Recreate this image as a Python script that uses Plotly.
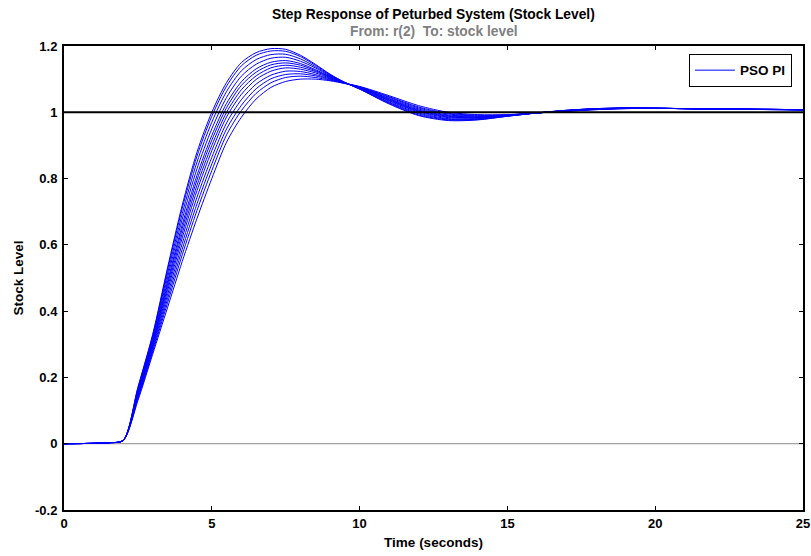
import plotly.graph_objects as go

# time samples (s)
t = [0, 1.5, 2, 2.5, 3, 3.5, 4, 4.5, 5, 5.5, 6, 6.5, 7, 7.5, 8, 8.5, 9, 9.5, 10,
     11, 12, 13, 14, 15, 16, 17, 18, 19, 20, 22, 25]

# step responses of the perturbed systems (stock level)
resp_01 = [0, 0.003, 0.01, 0.170, 0.330, 0.530, 0.720, 0.880, 1.000, 1.090, 1.150, 1.180, 1.192, 1.190, 1.172, 1.145, 1.115, 1.090, 1.070,
           1.025, 0.990, 0.975, 0.977, 0.988, 0.998, 1.006, 1.011, 1.013, 1.012, 1.010, 1.007]
resp_02 = [0, 0.003, 0.01, 0.168, 0.326, 0.523, 0.710, 0.868, 0.988, 1.079, 1.140, 1.172, 1.185, 1.184, 1.168, 1.142, 1.114, 1.090, 1.070,
           1.027, 0.992, 0.977, 0.978, 0.988, 0.998, 1.006, 1.011, 1.013, 1.012, 1.010, 1.007]
resp_03 = [0, 0.003, 0.01, 0.164, 0.321, 0.512, 0.694, 0.850, 0.970, 1.063, 1.125, 1.159, 1.174, 1.175, 1.161, 1.138, 1.112, 1.090, 1.071,
           1.029, 0.995, 0.979, 0.979, 0.989, 0.998, 1.006, 1.011, 1.013, 1.012, 1.010, 1.007]
resp_04 = [0, 0.003, 0.01, 0.160, 0.315, 0.500, 0.678, 0.830, 0.950, 1.045, 1.109, 1.145, 1.163, 1.166, 1.154, 1.134, 1.110, 1.089, 1.072,
           1.031, 0.998, 0.981, 0.981, 0.989, 0.998, 1.005, 1.010, 1.013, 1.012, 1.010, 1.008]
resp_05 = [0, 0.003, 0.01, 0.156, 0.309, 0.488, 0.661, 0.810, 0.930, 1.027, 1.092, 1.131, 1.151, 1.156, 1.147, 1.129, 1.108, 1.089, 1.073,
           1.034, 1.001, 0.984, 0.983, 0.990, 0.998, 1.005, 1.010, 1.012, 1.012, 1.010, 1.008]
resp_06 = [0, 0.003, 0.01, 0.153, 0.305, 0.480, 0.649, 0.796, 0.916, 1.014, 1.081, 1.121, 1.143, 1.149, 1.142, 1.126, 1.107, 1.089, 1.073,
           1.036, 1.003, 0.986, 0.984, 0.990, 0.998, 1.005, 1.010, 1.012, 1.012, 1.010, 1.008]
resp_07 = [0, 0.003, 0.01, 0.150, 0.300, 0.470, 0.635, 0.780, 0.900, 1.000, 1.068, 1.110, 1.134, 1.142, 1.136, 1.123, 1.105, 1.089, 1.074,
           1.038, 1.005, 0.988, 0.985, 0.991, 0.998, 1.005, 1.010, 1.012, 1.012, 1.010, 1.008]
resp_08 = [0, 0.003, 0.01, 0.147, 0.295, 0.460, 0.621, 0.764, 0.884, 0.986, 1.054, 1.099, 1.124, 1.134, 1.130, 1.119, 1.103, 1.088, 1.075,
           1.040, 1.007, 0.990, 0.986, 0.991, 0.998, 1.004, 1.009, 1.012, 1.012, 1.010, 1.008]
resp_09 = [0, 0.003, 0.01, 0.143, 0.289, 0.448, 0.604, 0.744, 0.864, 0.968, 1.038, 1.085, 1.112, 1.124, 1.123, 1.114, 1.101, 1.088, 1.075,
           1.042, 1.010, 0.992, 0.988, 0.991, 0.998, 1.004, 1.009, 1.012, 1.012, 1.010, 1.008]
resp_10 = [0, 0.003, 0.01, 0.139, 0.283, 0.436, 0.587, 0.724, 0.844, 0.950, 1.021, 1.071, 1.101, 1.114, 1.116, 1.110, 1.099, 1.088, 1.076,
           1.045, 1.013, 0.995, 0.989, 0.992, 0.998, 1.004, 1.009, 1.012, 1.012, 1.010, 1.008]
resp_11 = [0, 0.003, 0.01, 0.135, 0.277, 0.424, 0.570, 0.704, 0.824, 0.932, 1.005, 1.057, 1.089, 1.105, 1.109, 1.105, 1.097, 1.087, 1.077,
           1.047, 1.016, 0.997, 0.991, 0.992, 0.998, 1.003, 1.008, 1.011, 1.012, 1.010, 1.008]
resp_12 = [0, 0.003, 0.01, 0.130, 0.270, 0.410, 0.550, 0.680, 0.800, 0.910, 0.985, 1.040, 1.075, 1.093, 1.100, 1.100, 1.095, 1.087, 1.078,
           1.050, 1.020, 1.000, 0.993, 0.993, 0.998, 1.003, 1.008, 1.011, 1.012, 1.010, 1.008]

responses = [resp_01, resp_02, resp_03, resp_04, resp_05, resp_06,
             resp_07, resp_08, resp_09, resp_10, resp_11, resp_12]

x_range = [0, 25]
y_range = [-0.2, 1.2]
x_ticks = [0, 5, 10, 15, 20, 25]
y_ticks = [-0.2, 0, 0.2, 0.4, 0.6, 0.8, 1, 1.2]
y_tick_text = ["-0.2", "0", "0.2", "0.4", "0.6", "0.8", "1", "1.2"]
setpoint = 1

FONT = "Liberation Sans, Arial, sans-serif"

fig = go.Figure()

# zero line (gray)
fig.add_trace(go.Scatter(x=x_range, y=[0, 0], mode="lines",
                         line=dict(color="#8c8c8c", width=1),
                         showlegend=False, hoverinfo="skip"))

for i, r in enumerate(responses):
    fig.add_trace(go.Scatter(
        x=t, y=r, mode="lines", name="PSO PI",
        line=dict(color="#0000ff", width=1, shape="spline", smoothing=0.8),
        showlegend=(i == 0)))

# set-point line (black)
fig.add_trace(go.Scatter(x=x_range, y=[setpoint, setpoint], mode="lines",
                         line=dict(color="black", width=2),
                         showlegend=False, hoverinfo="skip"))

axis_common = dict(showgrid=False, zeroline=False, showline=True, automargin=False,
                   linecolor="black", linewidth=2, mirror="ticks",
                   ticks="inside", ticklen=4, tickcolor="black", tickwidth=1,
                   tickfont=dict(family=FONT, size=13, color="black", weight="bold"))

fig.update_xaxes(range=x_range, tickvals=x_ticks,
                 title=dict(text="Time (seconds)", standoff=8,
                            font=dict(family=FONT, size=13.5, color="black", weight="bold")),
                 **axis_common)
fig.update_yaxes(range=y_range, tickvals=y_ticks, ticktext=y_tick_text,
                 ticklabelstandoff=2,
                 title=dict(text="Stock Level", standoff=8,
                            font=dict(family=FONT, size=13.5, color="black", weight="bold")),
                 **axis_common)

fig.add_annotation(text="Step Response of Peturbed System (Stock Level)",
                   xref="paper", yref="paper", x=0.5, y=1, yshift=32,
                   xanchor="center", yanchor="middle", showarrow=False,
                   font=dict(family=FONT, size=13.8, color="black", weight="bold"))
fig.add_annotation(text="From: r(2)  To: stock level",
                   xref="paper", yref="paper", x=0.5, y=1, yshift=15,
                   xanchor="center", yanchor="middle", showarrow=False,
                   font=dict(family=FONT, size=13.8, color="#808080", weight="bold"))

fig.update_layout(
    width=811, height=556,
    margin=dict(l=64, r=8, t=46, b=46),
    paper_bgcolor="white", plot_bgcolor="white",
    legend=dict(x=0.985, y=0.983, xanchor="right", yanchor="top",
                bgcolor="white", bordercolor="black", borderwidth=1,
                font=dict(family=FONT, size=13.5, color="black", weight="bold"),
                itemwidth=40, tracegroupgap=0),
)

fig.write_html("out.html")
